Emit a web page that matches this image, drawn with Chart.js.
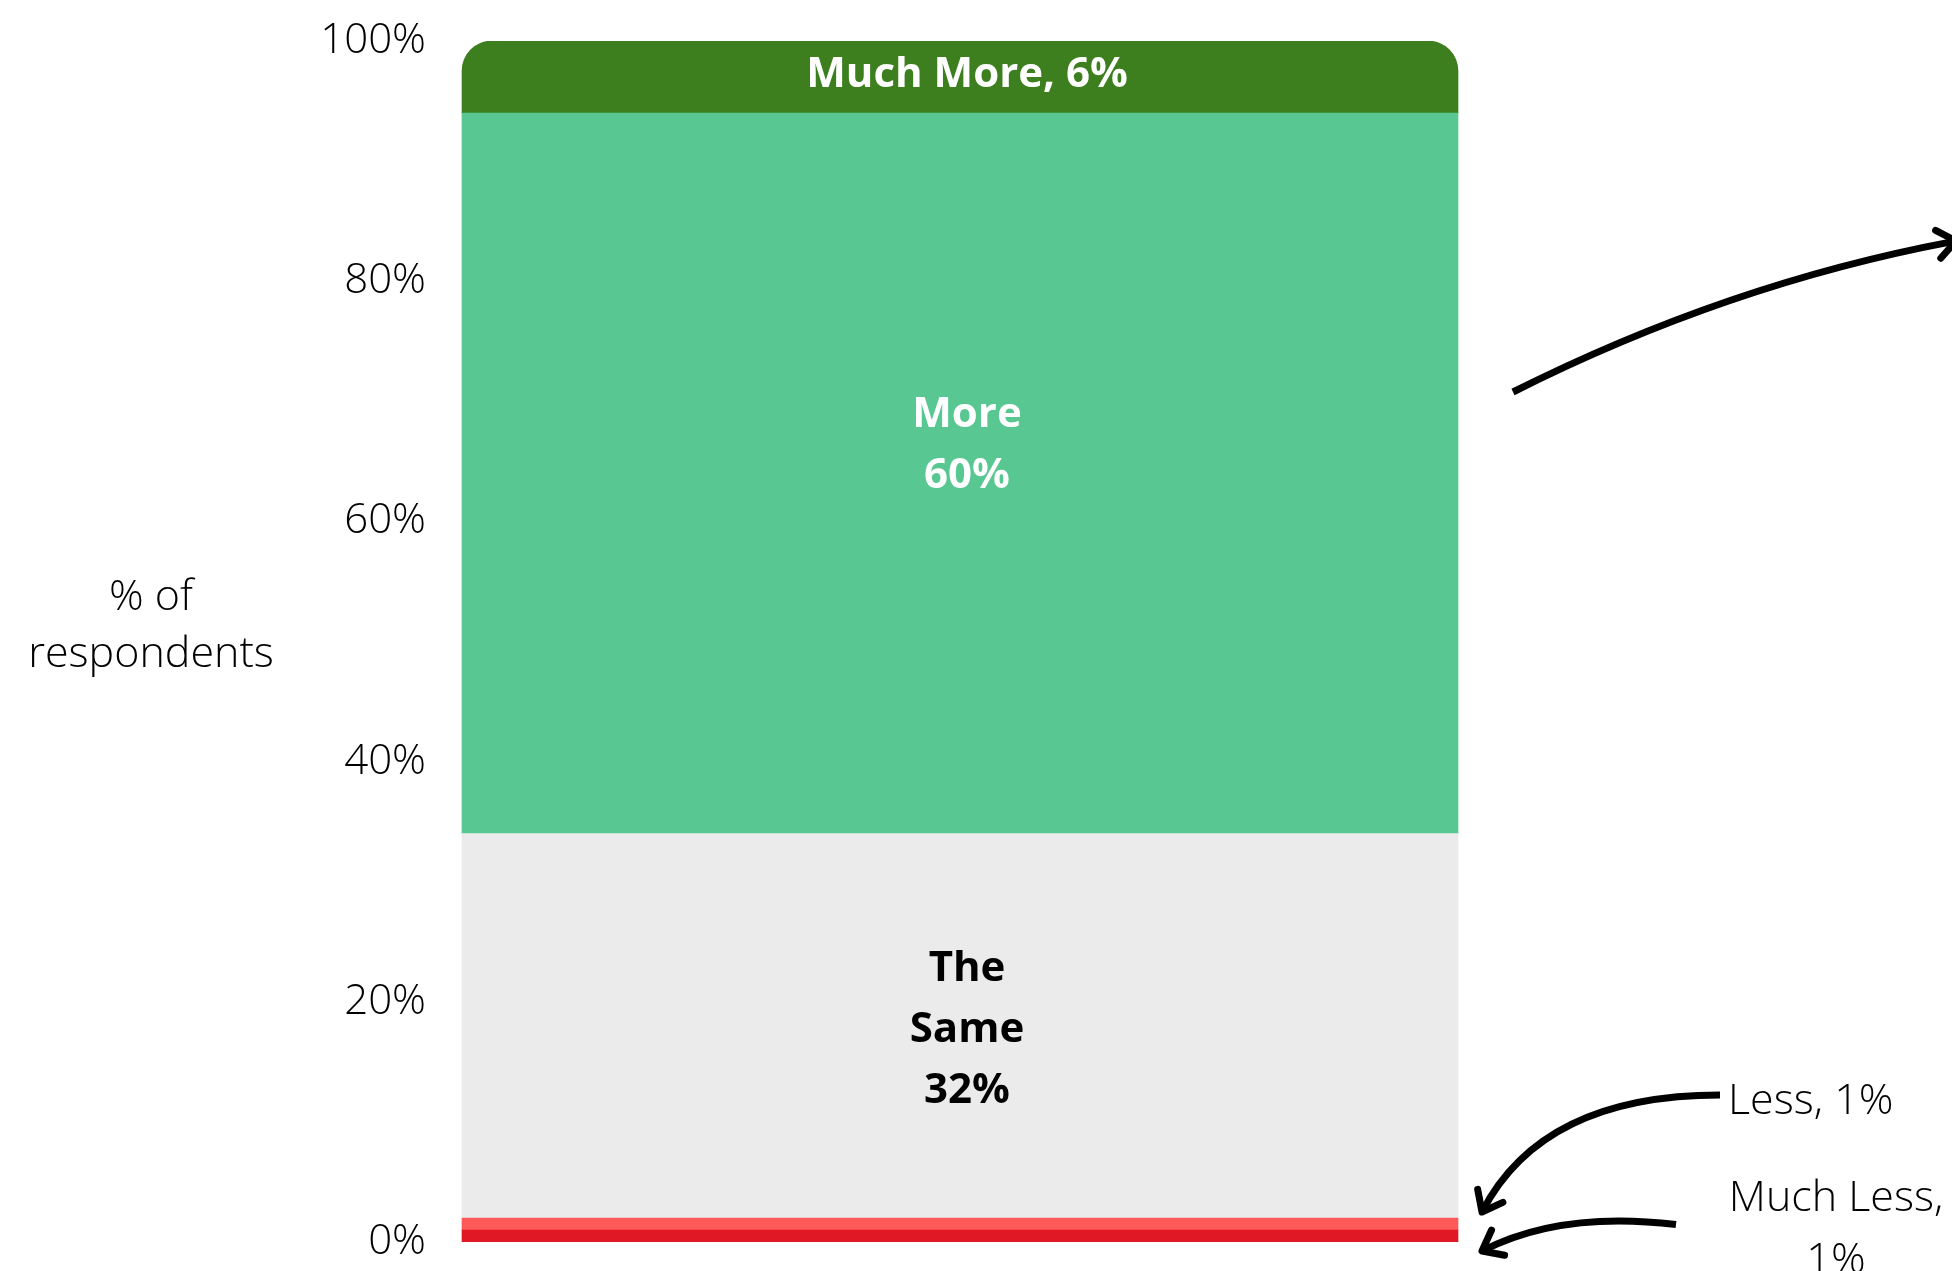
<!DOCTYPE html>
<html>
<head>
<meta charset="utf-8">
<script src="https://cdn.jsdelivr.net/npm/chart.js@4.4.1/dist/chart.umd.min.js"></script>
<style>
  html, body { margin: 0; padding: 0; background: #ffffff; overflow: hidden; }
  canvas { display: block; }
</style>
</head>
<body>
<canvas id="chart" width="1952" height="1271"></canvas>
<script>
// Stack segments, bottom to top
const categories = ['Much Less', 'Less', 'The Same', 'More', 'Much More'];
const shares = [1, 1, 32, 60, 6];
const colors = ['#E01826', '#FF5959', '#EBEBEB', '#58C791', '#3D7F1E'];
const yTicks = [0, 20, 40, 60, 80, 100];
const axisTitle = ['% of', 'respondents'];

const FONT = '"Open Sans", "Noto Sans", sans-serif';
const REG = '300 43px ' + FONT;
const BOLD = 'bold 42px ' + FONT;

// Text written inside the bar for the three large segments
const insideLines = {
  4: [`${categories[4]}, ${shares[4]}%`],
  3: [categories[3], `${shares[3]}%`],
  2: [...categories[2].split(' '), `${shares[2]}%`]
};
const insideStyle = {
  4: { color: '#ffffff', first: 10 },
  3: { color: '#ffffff', first: -46 },
  2: { color: '#000000', first: -45 }
};

function segment(chart, i) {
  return chart.getDatasetMeta(i).data[0].getProps(['x', 'y', 'base', 'width'], true);
}

function drawArrow(ctx, p0, c, tip) {
  ctx.save();
  ctx.strokeStyle = '#000';
  ctx.lineWidth = 7;
  ctx.lineCap = 'butt';
  ctx.beginPath();
  ctx.moveTo(p0[0], p0[1]);
  ctx.quadraticCurveTo(c[0], c[1], tip[0], tip[1]);
  ctx.stroke();
  const back = Math.atan2(c[1] - tip[1], c[0] - tip[0]);
  const spread = 38 * Math.PI / 180, len = 23;
  ctx.lineCap = 'round';
  ctx.lineJoin = 'round';
  ctx.beginPath();
  ctx.moveTo(tip[0] + len * Math.cos(back - spread), tip[1] + len * Math.sin(back - spread));
  ctx.lineTo(tip[0], tip[1]);
  ctx.lineTo(tip[0] + len * Math.cos(back + spread), tip[1] + len * Math.sin(back + spread));
  ctx.stroke();
  ctx.restore();
}

const annotations = {
  id: 'annotations',
  afterDatasetsDraw(chart) {
    const ctx = chart.ctx;
    const area = chart.chartArea;
    ctx.save();

    // labels inside the stacked bar
    Object.keys(insideLines).forEach(k => {
      const s = segment(chart, +k);
      const cy = (s.y + s.base) / 2;
      ctx.font = BOLD;
      ctx.fillStyle = insideStyle[k].color;
      ctx.textAlign = 'center';
      ctx.textBaseline = 'alphabetic';
      insideLines[k].forEach((t, j) => ctx.fillText(t, s.x + 7, cy + insideStyle[k].first + j * 61));
    });

    // callouts for the two thin red segments
    const less = segment(chart, 1);
    const right = less.x + less.width / 2;
    const cyLess = (less.y + less.base) / 2;
    ctx.font = REG;
    ctx.fillStyle = '#000';
    ctx.textAlign = 'left';
    ctx.fillText(`${categories[1]}, ${shares[1]}%`, right + 270, cyLess - 110);
    drawArrow(ctx, [right + 262, cyLess - 129], [right + 84, cyLess - 129], [right + 24, cyLess - 12]);

    const ml = segment(chart, 0);
    const cyMl = (ml.y + ml.base) / 2;
    ctx.textAlign = 'center';
    ctx.fillText(`${categories[0]},`, right + 378, cyMl - 24.5);
    ctx.fillText(`${shares[0]}%`, right + 378, cyMl + 37.5);
    drawArrow(ctx, [right + 218, cyMl - 11.5], [right + 102, cyMl - 25.5], [right + 24, cyMl + 15]);

    // arrow leading off to the right from the green segments
    drawArrow(ctx, [right + 55, area.top + 351], [right + 272, area.top + 242], [right + 498, area.top + 200]);

    // axis title, horizontal, two lines
    const mid = (area.top + area.bottom) / 2;
    ctx.font = REG;
    ctx.textAlign = 'center';
    ctx.fillText(axisTitle[0], 151, mid - 32);
    ctx.fillText(axisTitle[1], 151, mid + 25);
    ctx.restore();
  }
};

function build() {
  new Chart(document.getElementById('chart'), {
    type: 'bar',
    data: {
      labels: [''],
      datasets: categories.map((name, i) => ({
        label: name,
        data: [shares[i]],
        backgroundColor: colors[i],
        borderWidth: 0,
        borderRadius: i === categories.length - 1
          ? { topLeft: 30, topRight: 30, bottomLeft: 0, bottomRight: 0 } : 0,
        borderSkipped: false,
        barThickness: 996
      }))
    },
    options: {
      responsive: false,
      animation: false,
      devicePixelRatio: 1,
      layout: { padding: { top: 41, bottom: 29, left: 0, right: 458 } },
      plugins: { legend: { display: false }, tooltip: { enabled: false } },
      scales: {
        x: { stacked: true, display: false },
        y: {
          stacked: true,
          min: yTicks[0],
          max: yTicks[yTicks.length - 1],
          afterBuildTicks(scale) { scale.ticks = yTicks.map(v => ({ value: v })); },
          afterFit(scale) { scale.width = 426; },
          grid: { display: false, drawTicks: false },
          border: { display: false },
          ticks: {
            padding: 0,
            color: '#000',
            font: { family: FONT, size: 42, weight: 300 },
            callback: v => v + '%'
          }
        }
      }
    },
    plugins: [annotations]
  });
}

Promise.all([
  document.fonts.load(REG),
  document.fonts.load(BOLD)
]).catch(() => {}).then(build);
</script>
</body>
</html>
